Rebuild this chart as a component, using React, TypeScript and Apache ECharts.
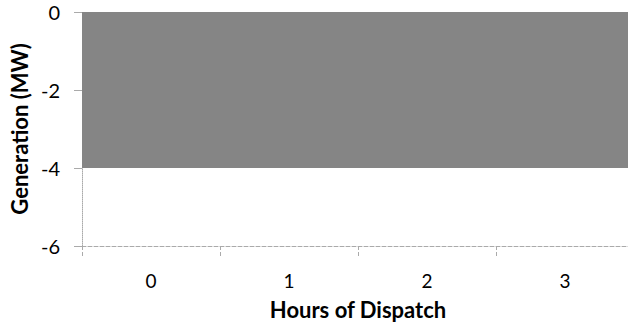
import React, { useEffect, useRef } from "react";
import * as echarts from "echarts";

const hours = ["0", "1", "2", "3"];
const generation = [-4, -4, -4, -4];
const yTicks = { min: -6, max: 0, interval: 2 };

export default function App() {
  const ref = useRef<HTMLDivElement>(null);
  useEffect(() => {
    if (!ref.current) return;
    const chart = echarts.init(ref.current, null, { renderer: "svg" });
    const font = "Lato, 'Open Sans', sans-serif";
    chart.setOption({
      animation: false,
      backgroundColor: "#ffffff",
      grid: {
        left: 82,
        top: 12,
        width: 552,
        height: 234,
        containLabel: false,
        outerBoundsMode: "none",
      },
      xAxis: {
        type: "category",
        data: hours,
        name: "Hours of Dispatch",
        nameLocation: "middle",
        nameGap: 52,
        nameTextStyle: { fontFamily: font, fontSize: 22, fontWeight: "bold", color: "#000" },
        axisLine: { show: true, onZero: false, lineStyle: { color: "#aaaaaa", type: "dashed", width: 1 } },
        axisTick: { show: true, length: 11, alignWithLabel: false, lineStyle: { color: "#aaaaaa", type: "dashed" } },
        axisLabel: { fontFamily: font, fontSize: 19, color: "#000", margin: 25 },
        splitLine: { show: false },
      },
      yAxis: {
        type: "value",
        min: yTicks.min,
        max: yTicks.max,
        interval: yTicks.interval,
        name: "Generation (MW)",
        nameLocation: "middle",
        nameGap: 46,
        nameTextStyle: { fontFamily: font, fontSize: 22, fontWeight: "bold", color: "#000" },
        axisLine: { show: true, lineStyle: { color: "#aaaaaa", type: "dotted", width: 1 } },
        axisTick: { show: true, length: 8, lineStyle: { color: "#aaaaaa" } },
        axisLabel: { fontFamily: font, fontSize: 20, color: "#000", margin: 22, padding: [6, 0, 0, 0] },
        splitLine: { show: false },
      },
      series: [
        {
          type: "bar",
          data: generation,
          barCategoryGap: "0%",
          itemStyle: { color: "#858585" },
        },
      ],
    });
    return () => chart.dispose();
  }, []);
  return (
    <div
      ref={ref}
      style={{ position: "fixed", left: 0, top: 0, width: 628, height: 327 }}
    />
  );
}
